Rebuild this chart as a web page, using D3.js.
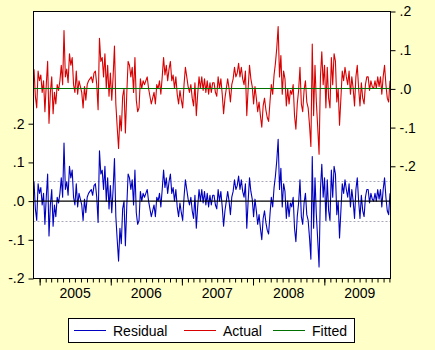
<!DOCTYPE html>
<html>
<head>
<meta charset="utf-8">
<script src="https://cdn.jsdelivr.net/npm/d3@7"></script>
<style>
  html, body { margin: 0; padding: 0; background: #FFFFC8; }
  svg { display: block; }
  text { font-family: "Liberation Sans", Arial, sans-serif; fill: #000; }
</style>
</head>
<body>
<script>
// Weekly regression output: residual, actual and fitted series
const firstWeek = new Date(2004, 11, 3);   // first weekly observation
const yearLabels = ["2005", "2006", "2007", "2008", "2009"];
const leftTicks = [-0.2, -0.1, 0.0, 0.1, 0.2];   // residual scale
const rightTicks = [-0.2, -0.1, 0.0, 0.1, 0.2];  // actual / fitted scale
const leftDomain = [-0.2, 0.49];
const rightDomain = [-0.49, 0.2];
const fittedLevel = 0.001;     // constant-only model: fitted value
const seBand = 0.051;          // ± one standard error of regression

const residual = [
  0.05, -0.02, -0.05, 0.045, 0.02, 0.035, -0.01, 0.02, -0.06, 0.01,
  0.07, -0.09, -0.01, 0.03, -0.065, -0.01, -0.04, 0.01, -0.005, 0.02,
  0.06, 0.01, 0.15, 0.03, 0.05, 0.015, 0.09, 0.06, 0.08, 0.01,
  -0.01, 0.045, -0.015, 0.02, 0.005, -0.01, -0.05, 0.005, -0.03, 0.01,
  0.02, 0.025, 0.03, 0.015, 0.04, 0.045, 0.01, -0.055, 0.13, 0.07,
  0.08, 0.03, 0.09, 0.0, 0.06, -0.02, 0.04, -0.03, 0.03, 0.11,
  -0.04, -0.1, -0.155, -0.07, -0.11, -0.02, 0.0,
  -0.115,
  -0.015, 0.07, 0.06, 0.03, 0.055, -0.01, 0.08, -0.03, -0.06, -0.05,
  0.025, 0.0, 0.02, 0.01, 0.02, 0.03, 0.0, -0.02, -0.04, -0.025,
  -0.01, -0.04, 0.01, 0.0, 0.02, -0.015, 0.03, 0.08, 0.035, 0.06,
  0.02, 0.05, 0.07, 0.02, 0.035, 0.0, 0.03, -0.015, -0.04, -0.005,
  -0.03, -0.05, 0.01, 0.055, 0.03, 0.005, -0.01, 0.01, -0.025, -0.045,
  0.015, -0.07, -0.015, 0.03, 0.0, 0.03, -0.005, 0.025, -0.01, 0.02,
  -0.015, 0.015, -0.01, 0.015,
  0.015, -0.01, -0.02, 0.03, 0.0, 0.025, -0.015, -0.065, -0.025, 0.0,
  0.025, 0.0, -0.035, 0.01, 0.025, 0.055, 0.03, 0.04, 0.065, 0.03,
  0.055, 0.025, 0.01, 0.045, -0.07, 0.0, 0.06, 0.025, 0.005, -0.04,
  0.005, -0.025, -0.06, -0.035, -0.07, -0.1, -0.045, -0.025, -0.055, -0.075,
  -0.085, -0.035, 0.01, -0.015, 0.035, 0.065, 0.105, 0.16, 0.03, 0.085,
  -0.015, 0.045, 0.025, -0.045, 0.0, -0.04, -0.005, -0.015, 0.01, -0.07,
  -0.105, -0.04, -0.005, 0.055,
  -0.04, -0.06, -0.005, 0.02, -0.035, -0.05, -0.095, -0.15, 0.115, -0.07,
  0.06, -0.035, -0.1, -0.17, 0.03, 0.095, 0.01, 0.06, -0.05, 0.055,
  -0.025, -0.05, 0.08, 0.01, 0.09, 0.07, -0.035, 0.0, -0.095, -0.025,
  0.045, 0.02, 0.055, 0.03, 0.01, 0.045, -0.015, 0.03, 0.0, -0.045,
  0.03, 0.06, 0.0, -0.045, 0.015, -0.025, -0.04, 0.01, 0.03, 0.03,
  -0.005, 0.02, 0.005, 0.0, 0.02, 0.0, 0.03, 0.005, 0.03, -0.015,
  0.03, 0.06, 0.01, -0.025, -0.035, 0.02
];

const seriesNames = ["Residual", "Actual", "Fitted"];
const seriesColors = { Residual: "#0000C0", Actual: "#D80000", Fitted: "#007000" };

// Build the table: one row per week; actual = fitted + residual
const rows = residual.map((r, i) => ({
  date: d3.timeWeek.offset(firstWeek, i),
  residual: r,
  fitted: fittedLevel,
  actual: fittedLevel + r
}));

const W = 435, H = 350;
const plot = { left: 33.5, right: 390.5, top: 11.5, bottom: 278.5 };

const svg = d3.select("body").append("svg").attr("width", W).attr("height", H);

const x = d3.scaleTime()
  .domain(d3.extent(rows, d => d.date))
  .range([plot.left + 0.5, plot.right - 0.5]);
const yL = d3.scaleLinear().domain(leftDomain).range([plot.bottom, plot.top]);
const yR = d3.scaleLinear().domain(rightDomain).range([plot.bottom, plot.top]);

// Tick labels in the ".1" / "-.1" style
const fmt = v => {
  const a = Math.abs(v) < 1e-9 ? 0 : v;
  const s = Math.abs(a).toFixed(1).replace(/^0\./, ".");
  return (a < 0 ? "-" : "") + s;
};

// Plot area
svg.append("rect")
  .attr("x", plot.left).attr("y", plot.top)
  .attr("width", plot.right - plot.left).attr("height", plot.bottom - plot.top)
  .attr("fill", "#fff");

svg.append("clipPath").attr("id", "plotclip")
  .append("rect")
  .attr("x", plot.left).attr("y", plot.top)
  .attr("width", plot.right - plot.left).attr("height", plot.bottom - plot.top);

const g = svg.append("g").attr("clip-path", "url(#plotclip)");

// Standard error band lines around the residual
[seBand, -seBand].forEach(v => {
  g.append("line")
    .attr("x1", plot.left).attr("x2", plot.right)
    .attr("y1", Math.round(yL(v)) + 0.5).attr("y2", Math.round(yL(v)) + 0.5)
    .attr("stroke", "#A8A8B8").attr("stroke-width", 1)
    .attr("stroke-dasharray", "2,2");
});

const lineFor = (key, y) => d3.line().x(d => x(d.date)).y(d => y(d[key]));

g.append("path").datum(rows)
  .attr("fill", "none").attr("stroke", seriesColors.Actual).attr("stroke-width", 1.1)
  .attr("stroke-linejoin", "round")
  .attr("d", lineFor("actual", yR));

g.append("path").datum(rows)
  .attr("fill", "none").attr("stroke", seriesColors.Fitted).attr("stroke-width", 1.2)
  .attr("d", lineFor("fitted", yR));

g.append("path").datum(rows)
  .attr("fill", "none").attr("stroke", seriesColors.Residual).attr("stroke-width", 1.1)
  .attr("stroke-linejoin", "round")
  .attr("d", lineFor("residual", yL));

// Residual zero line
g.append("line")
  .attr("x1", plot.left).attr("x2", plot.right)
  .attr("y1", yL(0)).attr("y2", yL(0))
  .attr("stroke", "#000").attr("stroke-width", 1.2);

// Frame
svg.append("rect")
  .attr("x", plot.left).attr("y", plot.top)
  .attr("width", plot.right - plot.left).attr("height", plot.bottom - plot.top)
  .attr("fill", "none").attr("stroke", "#000").attr("stroke-width", 1);

// Left axis (residual)
const leftAxis = d3.axisLeft(yL).tickValues(leftTicks).tickFormat(fmt)
  .tickSize(5).tickPadding(4);
const gl = svg.append("g").attr("transform", `translate(${plot.left},0)`).call(leftAxis);

// Right axis (actual, fitted)
const rightAxis = d3.axisRight(yR).tickValues(rightTicks).tickFormat(fmt)
  .tickSize(5).tickPadding(4);
const gr = svg.append("g").attr("transform", `translate(${plot.right},0)`).call(rightAxis);

// Bottom axis: monthly minor ticks, yearly major ticks, year labels centred
const minorAxis = d3.axisBottom(x).ticks(d3.timeMonth.every(1)).tickFormat("").tickSize(4);
const gm = svg.append("g").attr("transform", `translate(0,${plot.bottom})`).call(minorAxis);
const majorAxis = d3.axisBottom(x).ticks(d3.timeYear.every(1)).tickFormat("").tickSize(7);
const gM = svg.append("g").attr("transform", `translate(0,${plot.bottom})`).call(majorAxis);

[gl, gr, gm, gM].forEach(a => {
  a.select(".domain").remove();
  a.selectAll("line").attr("stroke", "#000");
  a.selectAll("text").attr("font-size", 14)
    .attr("font-family", "'Liberation Sans', Arial, sans-serif").attr("fill", "#000");
});

svg.append("g").selectAll("text").data(yearLabels).join("text")
  .attr("x", d => x(new Date(+d, 6, 2)))
  .attr("y", 298)
  .attr("text-anchor", "middle")
  .attr("font-size", 14)
  .text(d => d);

// Legend
const legend = svg.append("g");
legend.append("rect")
  .attr("x", 68.5).attr("y", 318.5).attr("width", 286).attr("height", 24)
  .attr("fill", "#fff").attr("stroke", "#000").attr("stroke-width", 1);
const legendX = { Residual: 74, Actual: 184, Fitted: 273 };
seriesNames.forEach(name => {
  const lx = legendX[name];
  legend.append("line")
    .attr("x1", lx).attr("x2", lx + 32).attr("y1", 330.5).attr("y2", 330.5)
    .attr("stroke", seriesColors[name]).attr("stroke-width", 1);
  legend.append("text")
    .attr("x", lx + 39).attr("y", 335.5)
    .attr("font-size", 14)
    .text(name);
});
</script>
</body>
</html>
